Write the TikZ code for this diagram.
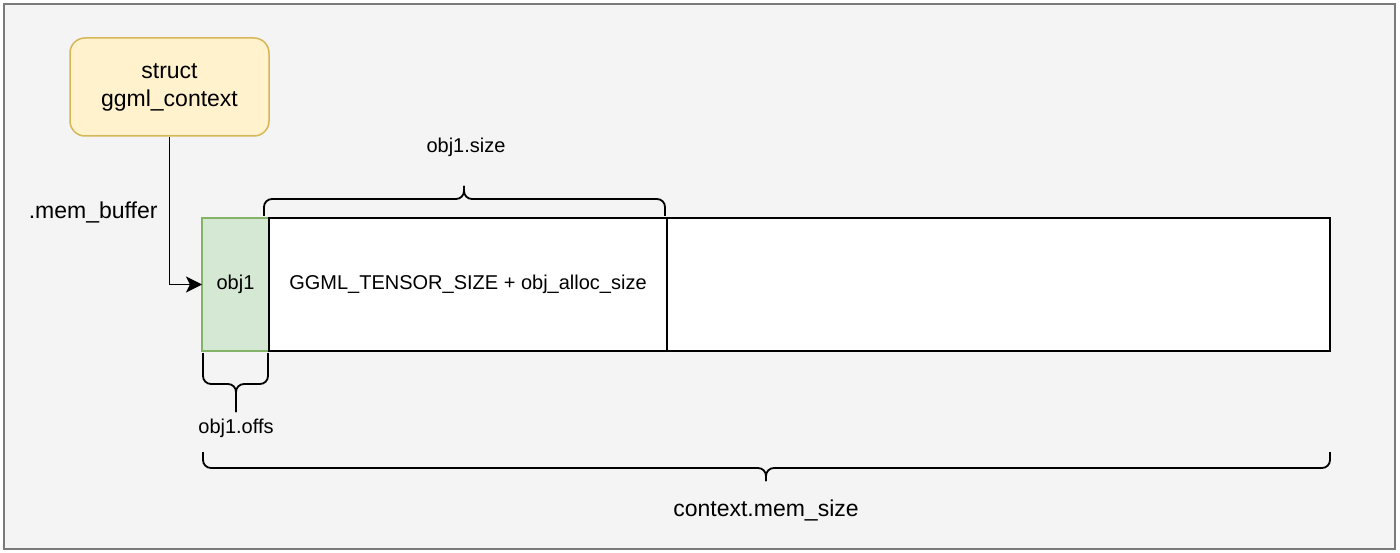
\documentclass[tikz,border=0pt]{standalone}
\usepackage{fontspec}
\setmainfont{Liberation Sans}
\usepackage{tikz}
\usetikzlibrary{arrows.meta, positioning, calc}

\definecolor{panelgray}{HTML}{F4F4F4}
\definecolor{panelline}{HTML}{7A7A7A}
\definecolor{structfill}{HTML}{FFF2CC}
\definecolor{structline}{HTML}{D6B656}
\definecolor{objfill}{HTML}{D5E8D4}
\definecolor{objline}{HTML}{82B366}

\begin{document}
\begin{tikzpicture}[x=1pt, y=-1pt,
      structbox/.style={draw=structline, fill=structfill, line width=1.5pt,
      rounded corners=15pt, minimum width=199pt, minimum height=98pt,
      align=center, font=\fontsize{23pt}{28pt}\selectfont},
      objbox/.style={draw=objline, fill=objfill, line width=1.5pt, minimum
      width=67pt, minimum height=133pt, outer sep=0pt,
      font=\fontsize{20pt}{24pt}\selectfont},
      membox/.style={draw=black, fill=white, line width=2pt, minimum
      height=133pt, outer sep=0pt, font=\fontsize{20pt}{24pt}\selectfont},
      link/.style={line width=1.8pt, -{Stealth[length=16pt, width=16pt, inset=4pt]}},
      bracepath/.style={line width=1.8pt, rounded corners=8pt},
      smalllabel/.style={font=\fontsize{20pt}{24pt}\selectfont},
      biglabel/.style={font=\fontsize{23pt}{28pt}\selectfont} ]

    % Canvas and panel
    \useasboundingbox (0,0) rectangle (1400,553);
    \fill[white] (0,0) rectangle (1400,553);
    \draw[fill=panelgray, draw=panelline, line width=1.5pt] (4,4) rectangle (1395,549);

    % Context struct
    \node[structbox] (ctx) at (169.5,87) {struct\\ggml\_context};

    % Memory buffer
    \node[objbox] (obj1) at (235.5,284.5) {obj1};
    \node[membox, minimum width=398pt] (tensor) at (468,284.5)
    {GGML\_TENSOR\_SIZE + obj\_alloc\_size};
    \node[membox, minimum width=663pt] (rest) at (998.5,284.5) {};

    % Pointer to buffer
    \draw[link] (ctx.south) |- (obj1.west);
    \node[biglabel, anchor=east] (membuf) at (161,212) {.mem\_buffer};

    % Brace over obj1 size
    \draw[bracepath] (264,216) |- (464,199) -- (464,186);
    \draw[bracepath] (665,216) |- (464,199) -- (464,186);
    \node[smalllabel] (objsize) at (466,147) {obj1.size};

    % Brace under obj1 offset
    \draw[bracepath] (203,353) |- (236,384) -- (236,412);
    \draw[bracepath] (268,353) |- (236,384) -- (236,412);
    \node[smalllabel] (objoffs) at (236,428) {obj1.offs};

    % Brace under whole buffer
    \draw[bracepath] (203,452) |- (766,468) -- (766,481);
    \draw[bracepath] (1330,452) |- (766,468) -- (766,481);
    \node[biglabel] (memsize) at (766,510) {context.mem\_size};

    \end{tikzpicture}
\end{document}
